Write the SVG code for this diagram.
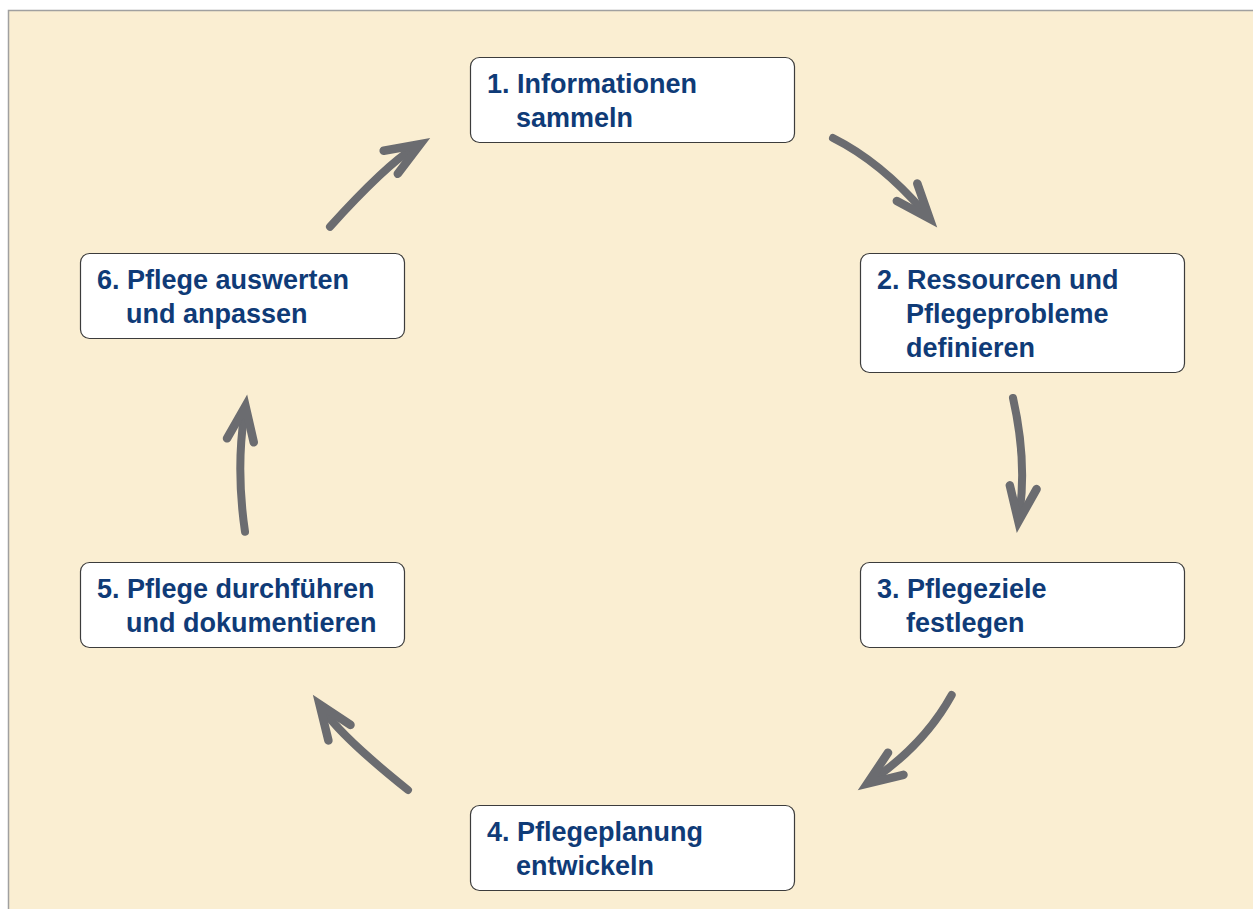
<svg xmlns="http://www.w3.org/2000/svg" width="1253" height="909" viewBox="0 0 1253 909">
<style>
.box{fill:#ffffff;stroke:#3c3c3c;stroke-width:1.2}
.t{font-family:"Liberation Sans",Arial,sans-serif;font-weight:bold;font-size:27px;fill:#0f3b77}
.sh{fill:none;stroke:#6b6c70;stroke-width:8;stroke-linecap:round}
</style>
<defs>
<marker id="ah" markerUnits="userSpaceOnUse" markerWidth="80" markerHeight="80" refX="0" refY="0" orient="auto" viewBox="-40 -40 80 80" overflow="visible">
<polyline points="-26,-13.5 8.6,0 -26,13.5" fill="none" stroke="#6b6c70" stroke-width="8.5" stroke-linejoin="miter" stroke-miterlimit="10" stroke-linecap="round"/>
</marker>
</defs>
<rect x="8.5" y="10.5" width="1260" height="920" fill="#faeed2" stroke="#a0a0a0" stroke-width="1.5"/>
<g id="connectors">
<path class="sh" d="M833,138 Q881,162 924,212" marker-end="url(#ah)"/>
<path class="sh" d="M1013,398 Q1027,460 1019.6,513" marker-end="url(#ah)"/>
<path class="sh" d="M951.7,695 Q925,743.4 874.4,778.6" marker-end="url(#ah)"/>
<path class="sh" d="M408,790 Q343.5,738.4 324.5,711.4" marker-end="url(#ah)"/>
<path class="sh" d="M245,531.7 Q236,470 244.2,414.6" marker-end="url(#ah)"/>
<path class="sh" d="M330,226.7 Q385.9,165.2 412.9,148.7" marker-end="url(#ah)"/>
</g>
<g id="node1">
<rect class="box" x="470.5" y="57.5" width="324" height="85" rx="9"/>
<text class="t" x="487" y="93">1. Informationen</text>
<text class="t" x="516" y="127">sammeln</text>
</g>
<g id="node2">
<rect class="box" x="860.5" y="253.5" width="324" height="119" rx="9"/>
<text class="t" x="877" y="289">2. Ressourcen und</text>
<text class="t" x="906" y="323">Pflegeprobleme</text>
<text class="t" x="906" y="357">definieren</text>
</g>
<g id="node3">
<rect class="box" x="860.5" y="562.5" width="324" height="85" rx="9"/>
<text class="t" x="877" y="598">3. Pflegeziele</text>
<text class="t" x="906" y="632">festlegen</text>
</g>
<g id="node4">
<rect class="box" x="470.5" y="805.5" width="324" height="85" rx="9"/>
<text class="t" x="487" y="841">4. Pflegeplanung</text>
<text class="t" x="516" y="875">entwickeln</text>
</g>
<g id="node5">
<rect class="box" x="80.5" y="562.5" width="324" height="85" rx="9"/>
<text class="t" x="97" y="598">5. Pflege durchführen</text>
<text class="t" x="126" y="632">und dokumentieren</text>
</g>
<g id="node6">
<rect class="box" x="80.5" y="253.5" width="324" height="85" rx="9"/>
<text class="t" x="97" y="289">6. Pflege auswerten</text>
<text class="t" x="126" y="323">und anpassen</text>
</g>
</svg>
